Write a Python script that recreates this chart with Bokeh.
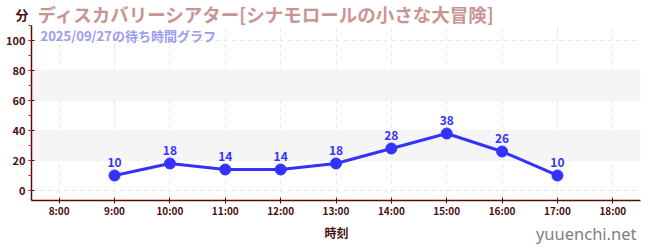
from bokeh.plotting import figure
from bokeh.layouts import column
from bokeh.models import (ColumnDataSource, FixedTicker, SingleIntervalTicker,
                          Label, BoxAnnotation, Range1d, LinearAxis)
from bokeh.core.properties import value
from bokeh.embed import file_html
from bokeh.resources import INLINE

title_text = "ディスカバリーシアター[シナモロールの小さな大冒険]"
subtitle_text = "2025/09/27の待ち時間グラフ"
y_label = "分"
x_label = "時刻"
watermark = "yuuenchi.net"

tick_hours = [8, 9, 10, 11, 12, 13, 14, 15, 16, 17, 18]
tick_labels = ["8:00", "9:00", "10:00", "11:00", "12:00", "13:00",
               "14:00", "15:00", "16:00", "17:00", "18:00"]
hours = [9, 10, 11, 12, 13, 14, 15, 16, 17]
waits = [10, 18, 14, 14, 18, 28, 38, 26, 10]

JP = "Noto Sans CJK JP"
AXIS_C = "#5c0a0a"
LABEL_C = "#4a1010"
BLUE = "#3333ff"
W = 650
LEFT, RIGHT = 31, 10
TOP_H = 25
BOT_H = 28
MAIN_H = 250 - TOP_H - BOT_H
MAIN_BOTTOM = 22


def strip(h):
    # x data units == page pixels, y data units == pixels from strip top
    f = figure(width=W, height=h, output_backend="svg", toolbar_location=None,
               x_range=Range1d(LEFT, W - RIGHT), y_range=Range1d(h, 0),
               x_axis_location=None, y_axis_location=None,
               min_border_left=LEFT, min_border_right=RIGHT,
               min_border_top=0, min_border_bottom=0)
    f.outline_line_color = None
    f.grid.visible = False
    f.border_fill_color = "white"
    return f


# ---- top strip: unit label (as a left-axis label) + title
top = strip(TOP_H)
unit_axis = LinearAxis(ticker=FixedTicker(ticks=[17]),
                       major_label_overrides={17: y_label},
                       axis_line_color=None, major_tick_line_color=None,
                       minor_tick_line_color=None, major_tick_in=0,
                       major_tick_out=0, major_label_standoff=3,
                       major_label_text_font=JP,
                       major_label_text_font_style="bold",
                       major_label_text_font_size="13px",
                       major_label_text_color=LABEL_C)
top.add_layout(unit_axis, "left")
top.add_layout(Label(x=37, y=0, text=title_text, text_font=JP,
                     text_font_style="bold", text_font_size="18.5px",
                     text_color="#c99494", text_baseline="top"))

# ---- main chart
p = figure(width=W, height=MAIN_H, output_backend="svg", toolbar_location=None,
           x_range=Range1d(7.5, 18.5), y_range=Range1d(-6.67, 110.0),
           min_border_left=LEFT, min_border_right=RIGHT, min_border_top=0,
           min_border_bottom=MAIN_BOTTOM)
p.outline_line_color = None
p.background_fill_color = "white"
p.border_fill_color = "white"

for lo, hi in [(20, 40), (60, 80)]:
    p.add_layout(BoxAnnotation(bottom=lo, top=hi, fill_color="#f5f5f5",
                               fill_alpha=1, line_color=None, level="underlay"))

p.xaxis.ticker = FixedTicker(ticks=tick_hours)
p.xaxis.major_label_overrides = {h: l for h, l in zip(tick_hours, tick_labels)}
p.yaxis.ticker = SingleIntervalTicker(interval=20, num_minor_ticks=2)
for ax in (p.xaxis[0], p.yaxis[0]):
    ax.axis_line_color = AXIS_C
    ax.axis_line_width = 1.5
    ax.major_tick_line_color = AXIS_C
    ax.major_tick_in = 3
    ax.major_tick_out = 3
    ax.major_label_text_color = LABEL_C
    ax.major_label_text_font = JP
    ax.major_label_text_font_style = "bold"
    ax.major_label_text_font_size = "10px"
p.xaxis.major_label_standoff = -1
p.yaxis.major_label_standoff = 3
p.yaxis.minor_tick_line_color = "#dd2222"
p.yaxis.minor_tick_in = 0
p.yaxis.minor_tick_out = 3
p.xaxis.minor_tick_line_color = None
p.yaxis.major_label_text_font_size = "11px"

for g in (p.xgrid[0], p.ygrid[0]):
    g.grid_line_color = "#e6e6e6"
    g.grid_line_dash = "4 4"
    g.grid_line_width = 1
p.xgrid.ticker = FixedTicker(ticks=tick_hours)
p.ygrid.ticker = SingleIntervalTicker(interval=20)

src = ColumnDataSource(dict(x=hours, y=waits, t=[str(v) for v in waits]))
p.line("x", "y", source=src, line_color=BLUE, line_width=3)
p.scatter("x", "y", source=src, size=11, fill_color=BLUE, line_color=BLUE)
p.text("x", "y", text="t", source=src, text_align="center",
       text_baseline="bottom", y_offset=-8, text_color=BLUE,
       text_font=value(JP), text_font_style="bold", text_font_size="12px")

p.add_layout(Label(x=9, y=(MAIN_H - MAIN_BOTTOM), x_units="screen",
                   y_units="screen", text=subtitle_text, text_font=JP,
                   text_font_style="bold", text_font_size="13px",
                   text_color="#9b9bf0", text_baseline="top"))

# ---- bottom strip: axis title + watermark
bot = strip(BOT_H)
bot.add_layout(Label(x=336, y=10, text=x_label, text_font=JP,
                     text_font_style="bold", text_font_size="12px",
                     text_color=LABEL_C, text_align="center",
                     text_baseline="middle"))
bot.add_layout(Label(x=636, y=11, text=watermark, text_font="Noto Sans",
                     text_font_size="16.5px", text_color="#808080",
                     text_align="right", text_baseline="middle"))

layout = column(top, p, bot, spacing=0)
open("out.html", "w").write(file_html(layout, INLINE))
